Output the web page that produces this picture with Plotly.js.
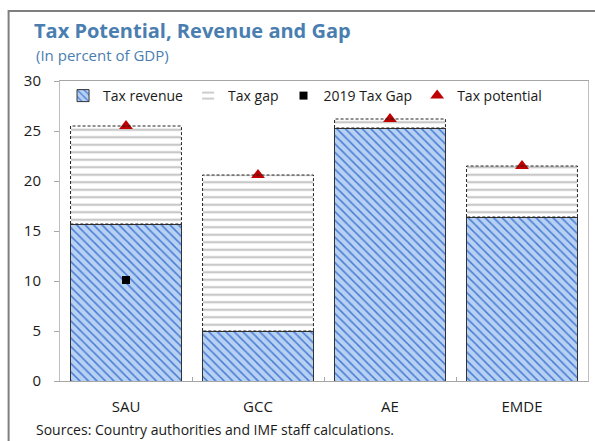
<!DOCTYPE html>
<html><head><meta charset="utf-8">
<script src="https://cdn.plot.ly/plotly-3.0.1.min.js"></script>
<style>html,body{margin:0;padding:0;background:#fff;}#chart{width:595px;height:441px;}</style>
</head><body><div id="chart"></div>
<script>
const categories = ["SAU", "GCC", "AE", "EMDE"];
const taxRevenue = [15.7, 5.0, 25.3, 16.4];
const taxPotential = [25.5, 20.6, 26.2, 21.5];
const taxGap2019 = [10.1, null, null, null];
const yTicks = [0, 5, 10, 15, 20, 25, 30];

const taxGap = taxPotential.map((p, i) => +(p - taxRevenue[i]).toFixed(2));
const idx = categories.map((c, i) => i);
const halfW = 0.42;

// dashed outline of gap bars on a hidden numeric overlay axis
const ox = [], oy = [];
idx.forEach(i => {
  ox.push(i - halfW, i - halfW, i + halfW, i + halfW, i - halfW, null);
  oy.push(taxRevenue[i], taxPotential[i], taxPotential[i], taxRevenue[i], taxRevenue[i], null);
});

const font = "'Open Sans', 'Noto Sans', sans-serif";

const traces = [
  {type: 'bar', name: 'Tax revenue', x: categories, y: taxRevenue, width: 2*halfW,
   marker: {color: '#b6d1f1', line: {color: '#333333', width: 1},
            pattern: {shape: '\\', fgcolor: '#4678d6', bgcolor: '#b6d1f1', size: 6, solidity: 0.25}}},
  {type: 'bar', name: 'Tax gap', x: categories, y: taxGap, width: 2*halfW,
   marker: {color: '#ffffff', line: {color: '#ffffff', width: 0},
            pattern: {shape: '-', fgcolor: '#c8c8c8', bgcolor: '#ffffff', size: 7.5, solidity: 0.3}}},
  {type: 'scatter', mode: 'lines', x: ox, y: oy, xaxis: 'x2', showlegend: false, hoverinfo: 'skip',
   line: {color: '#222222', width: 1, dash: '3px,2px'}},
  {type: 'scatter', mode: 'markers', name: '2019 Tax Gap', x: categories, y: taxGap2019,
   marker: {symbol: 'square', color: '#000000', size: 8}},
  {type: 'scatter', mode: 'markers', name: 'Tax potential', x: categories, y: taxPotential,
   marker: {symbol: 'triangle-up', color: '#c00000', size: 12}}
];

const px = v => (v - 59.5) / 529;
const py = v => (381 - v) / 300;

const layout = {
  width: 595, height: 441,
  margin: {l: 59.5, r: 6.5, t: 81, b: 60},
  paper_bgcolor: '#ffffff', plot_bgcolor: '#ffffff',
  barmode: 'stack',
  font: {family: font, size: 14, color: '#1a1a1a'},
  title: {text: '<b>Tax Potential, Revenue and Gap</b>', x: 34/595, xanchor: 'left', xref: 'container',
          y: 1 - 31/441, yanchor: 'middle', yref: 'container',
          font: {family: font, size: 20, color: '#4a7eb0'}},
  xaxis: {type: 'category', tickson: 'boundaries', ticks: 'inside', ticklen: 4, tickcolor: '#a6a6a6',
          showline: true, mirror: true, linecolor: '#a6a6a6', linewidth: 1, showgrid: false,
          ticklabelstandoff: 12, tickfont: {size: 15}},
  xaxis2: {overlaying: 'x', range: [-0.5, 3.5], visible: false},
  yaxis: {range: [0, 30], tickvals: yTicks, ticks: 'outside', ticklen: 5, tickcolor: '#a6a6a6',
          showline: true, mirror: true, linecolor: '#bfbfbf', linewidth: 1, showgrid: false, zeroline: false,
          ticklabelstandoff: 10, tickfont: {size: 15}},
  legend: {orientation: 'h', x: px(305), xanchor: 'center', y: py(96), yanchor: 'middle',
           font: {size: 14}, bgcolor: 'rgba(0,0,0,0)', itemwidth: 30, traceorder: 'normal'},
  showlegend: true,
  annotations: [
    {text: '(In percent of GDP)', xref: 'paper', yref: 'paper', x: px(33), y: py(55),
     xanchor: 'left', yanchor: 'middle', showarrow: false, font: {size: 15, color: '#4a7eb0'}},
    {text: 'Sources: Country authorities and IMF staff calculations.', xref: 'paper', yref: 'paper',
     x: px(33), y: py(429), xanchor: 'left', yanchor: 'middle', showarrow: false, font: {size: 14, color: '#1a1a1a'}}
  ],
  shapes: [
    {type: 'rect', xref: 'paper', yref: 'paper', x0: px(8), y0: py(470), x1: px(620), y1: py(11),
     line: {color: '#7f7f7f', width: 2}, fillcolor: 'rgba(0,0,0,0)', layer: 'below'}
  ]
};

Plotly.newPlot('chart', traces, layout, {displayModeBar: false, staticPlot: true});
</script></body></html>
